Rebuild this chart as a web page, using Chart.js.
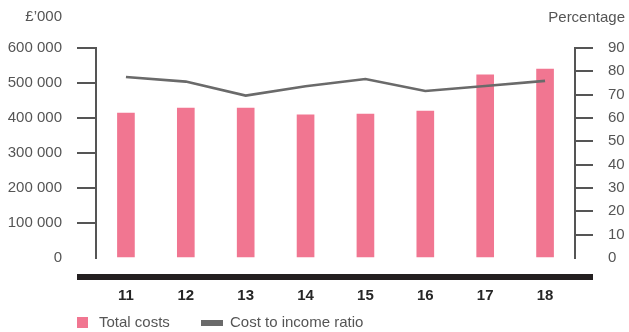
<!DOCTYPE html>
<html>
<head>
<meta charset="utf-8">
<script src="https://cdn.jsdelivr.net/npm/chart.js@4/dist/chart.umd.min.js"></script>
<style>
  body { margin: 0; background: #fff; }
  #costs { display: block; }
</style>
</head>
<body>
<canvas id="costs" width="629" height="332"></canvas>
<script>
// years on the x axis
var years = ["11", "12", "13", "14", "15", "16", "17", "18"];
// total costs, £'000
var totalCosts = [414000, 428000, 428000, 409000, 411000, 420000, 523000, 540000];
// cost to income ratio, %
var costIncome = [77.6, 75.6, 69.6, 73.6, 76.7, 71.6, 73.7, 75.9];
var leftTicks = [0, 100000, 200000, 300000, 400000, 500000, 600000];
var rightTicks = [0, 10, 20, 30, 40, 50, 60, 70, 80, 90];

var pink = "#f17691";
var grey = "#6a6a6a";
var axisGrey = "#555555";
var textGrey = "#555555";
var font = "'Liberation Sans', Arial, sans-serif";

function spaced(v) {
  return String(v).replace(/\B(?=(\d{3})+(?!\d))/g, " ");
}

// titles, the heavy base rule and the legend
var extras = {
  id: "extras",
  afterDraw: function (chart) {
    var c = chart.ctx;
    c.save();
    c.font = "15px " + font;
    c.fillStyle = textGrey;
    c.textBaseline = "middle";
    c.textAlign = "right";
    c.fillText("£’000", 62, 17);
    c.fillText("Percentage", 625, 18);

    c.fillStyle = "#231f20";
    c.fillRect(77, 274, 516, 6);

    c.textAlign = "left";
    c.fillStyle = pink;
    c.fillRect(77, 317, 11, 11);
    c.fillStyle = textGrey;
    c.fillText(chart.data.datasets[0].label, 99, 323);
    c.fillStyle = grey;
    c.fillRect(201, 320, 22, 6);
    c.fillStyle = textGrey;
    c.fillText(chart.data.datasets[1].label, 230, 323);
    c.restore();
  }
};

var ctx = document.getElementById("costs").getContext("2d");
var costsChart = new Chart(ctx, {
  type: "bar",
  data: {
    labels: years,
    datasets: [
      {
        label: "Total costs",
        data: totalCosts,
        backgroundColor: pink,
        barThickness: 17,
        yAxisID: "y",
        order: 1
      },
      {
        type: "line",
        label: "Cost to income ratio",
        data: costIncome,
        borderColor: grey,
        borderWidth: 2.6,
        pointRadius: 0,
        tension: 0,
        yAxisID: "y1",
        order: 0
      }
    ]
  },
  options: {
    responsive: false,
    animation: false,
    layout: { padding: { top: 48, left: 0, right: 0, bottom: 0 } },
    plugins: {
      legend: { display: false },
      tooltip: { enabled: false }
    },
    scales: {
      x: {
        offset: true,
        grid: { display: false, drawTicks: false },
        border: { display: false },
        ticks: {
          padding: 29,
          color: "#262626",
          font: { family: font, size: 15, weight: "bold" }
        },
        afterFit: function (s) { s.height = 74; }
      },
      y: {
        position: "left",
        min: 0,
        max: 600000,
        afterBuildTicks: function (s) {
          s.ticks = leftTicks.map(function (v) { return { value: v }; });
        },
        grid: {
          drawOnChartArea: false,
          tickLength: 19,
          lineWidth: 2,
          color: function (c) { return c.tick && c.tick.value === 0 ? "rgba(0,0,0,0)" : axisGrey; }
        },
        border: { color: axisGrey, width: 2 },
        ticks: {
          padding: 15,
          color: textGrey,
          font: { family: font, size: 15 },
          callback: function (v) { return spaced(v); }
        },
        afterFit: function (s) { s.width = 96; }
      },
      y1: {
        position: "right",
        min: 0,
        max: 90,
        afterBuildTicks: function (s) {
          s.ticks = rightTicks.map(function (v) { return { value: v }; });
        },
        grid: {
          drawOnChartArea: false,
          tickLength: 18,
          lineWidth: 2,
          color: function (c) { return c.tick && c.tick.value === 0 ? "rgba(0,0,0,0)" : axisGrey; }
        },
        border: { color: axisGrey, width: 2 },
        ticks: {
          padding: 15,
          color: textGrey,
          font: { family: font, size: 15 }
        },
        afterFit: function (s) { s.width = 54; }
      }
    }
  },
  plugins: [extras]
});
</script>
</body>
</html>
